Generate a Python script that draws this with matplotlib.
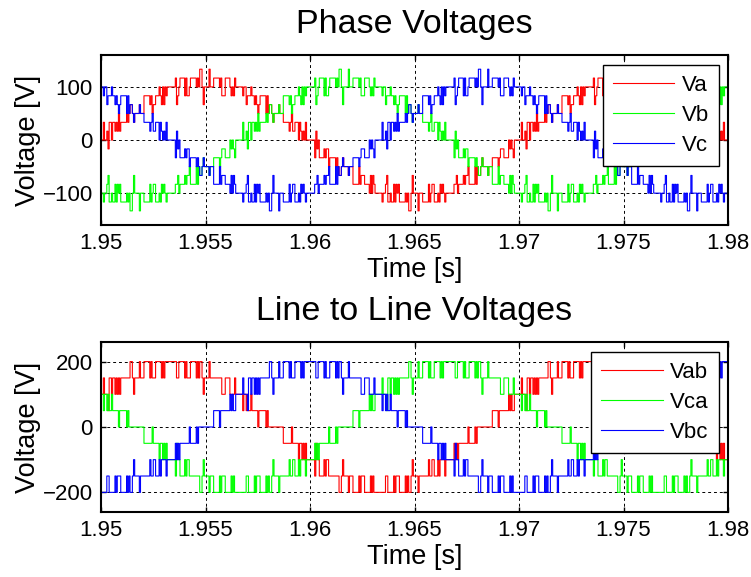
import numpy as np
import matplotlib
matplotlib.use("Agg")
import matplotlib.pyplot as plt

plt.rcParams['font.family'] = ['Liberation Sans', 'DejaVu Sans']

# average leg voltage [V] in each carrier period (0.278 ms)
leg_a = ([110, 120, 140, 150, 160, 180] +
         [180, 190, 190, 190, 190, 200, 200, 190, 190, 190, 190, 180,
          180, 190, 190, 190, 190, 200, 200, 190, 190, 190, 190, 180] +
         [180, 160, 150, 140, 120, 110] + [90, 80, 60, 50, 40, 20] +
         [20, 10, 10, 10, 10, 0, 0, 10, 10, 10, 10, 20,
          20, 10, 10, 10, 10, 0, 0, 10, 10, 10, 10, 20] +
         [20, 40, 50, 60, 80, 90] + [110, 120, 140, 150, 160, 180] +
         [180, 190, 190, 190, 190, 200, 200, 190, 190, 190, 190, 180,
          180, 190, 190, 190, 190, 200, 200, 190, 190, 190, 190, 180] +
         [180, 160, 150, 140, 120, 110])
leg_b = ([0, 10, 10, 10, 10, 20, 20, 10, 10, 10, 10, 0, 0, 10, 10, 10, 10, 20] +
         [20, 40, 50, 60, 80, 90] + [110, 120, 140, 150, 160, 180] +
         [180, 190, 190, 190, 190, 200, 200, 190, 190, 190, 190, 180,
          180, 190, 190, 190, 190, 200, 200, 190, 190, 190, 190, 180] +
         [180, 160, 150, 140, 120, 110] + [90, 80, 60, 50, 40, 20] +
         [20, 10, 10, 10, 10, 0, 0, 10, 10, 10, 10, 20,
          20, 10, 10, 10, 10, 0, 0, 10, 10, 10, 10, 20] +
         [20, 40, 50, 60, 80, 90] + [110, 120, 140, 150, 160, 180] +
         [180, 190, 190, 190, 190, 200])
leg_c = ([200, 190, 190, 190, 190, 180] +
         [180, 160, 150, 140, 120, 110] + [90, 80, 60, 50, 40, 20] +
         [20, 10, 10, 10, 10, 0, 0, 10, 10, 10, 10, 20,
          20, 10, 10, 10, 10, 0, 0, 10, 10, 10, 10, 20] +
         [20, 40, 50, 60, 80, 90] + [110, 120, 140, 150, 160, 180] +
         [180, 190, 190, 190, 190, 200, 200, 190, 190, 190, 190, 180,
          180, 190, 190, 190, 190, 200, 200, 190, 190, 190, 190, 180] +
         [180, 160, 150, 140, 120, 110] + [90, 80, 60, 50, 40, 20] +
         [20, 10, 10, 10, 10, 0, 0, 10, 10, 10, 10, 20, 20, 10, 10, 10, 10, 0])

x_ticks = [1.95, 1.955, 1.96, 1.965, 1.97, 1.975, 1.98]
x_labels = ["1.95", "1.955", "1.96", "1.965", "1.97", "1.975", "1.98"]
phase_ticks = [-100, 0, 100]
line_ticks = [-200, 0, 200]
phase_names = ["Va", "Vb", "Vc"]
line_names = ["Vab", "Vca", "Vbc"]
colors = ["#ff0000", "#00ff00", "#0000ff"]

step_v = 50
# which of the 5 samples in a carrier period sit one level up (even / odd periods)
pulse_even = {0: [0, 0, 0, 0, 0], 1: [0, 0, 1, 0, 0], 2: [0, 1, 1, 0, 0],
              3: [0, 1, 1, 1, 0], 4: [1, 1, 1, 1, 0]}
pulse_odd = {0: [0, 0, 0, 0, 0], 1: [0, 1, 0, 0, 0], 2: [0, 0, 1, 1, 0],
             3: [1, 1, 1, 0, 0], 4: [0, 1, 1, 1, 1]}


def expand(avg):
    out = []
    for i, v in enumerate(avg):
        base = (v // step_v) * step_v
        n = (v % step_v) // 10
        pattern = pulse_even if i % 2 == 0 else pulse_odd
        out.extend(base + step_v * p for p in pattern[n])
    out.append(out[-1])
    return np.array(out, dtype=float)


a = expand(leg_a)
b = expand(leg_b)
c = expand(leg_c)
t = np.linspace(1.95, 1.98, len(a))

phases = [(2 * a - b - c) / 3, (2 * b - a - c) / 3, (2 * c - a - b) / 3]
lines = [a - b, c - a, b - c]

fig = plt.figure(figsize=(7.51, 5.77), dpi=100)
ax1 = fig.add_axes([0.1345, 0.610, 0.8349, 0.2946])
ax2 = fig.add_axes([0.1345, 0.1127, 0.8349, 0.2946])


def style(ax, yticks, ylim, title):
    ax.set_xlim(1.95, 1.98)
    ax.set_ylim(*ylim)
    ax.set_xticks(x_ticks)
    ax.set_xticklabels(x_labels)
    ax.set_yticks(yticks)
    ax.grid(True, color="k", linestyle=(0, (3, 3)), linewidth=0.7)
    ax.set_axisbelow(True)
    ax.tick_params(direction="in", length=3.6, width=1, top=True, right=True,
                   labelsize=16, pad=6)
    for s in ax.spines.values():
        s.set_linewidth(1.5)
    ax.set_title(title, fontsize=24.5, pad=16)
    ax.set_xlabel("Time [s]", fontsize=19.5, labelpad=2)
    ax.set_ylabel("Voltage [V]", fontsize=19.5, labelpad=1)


for v, name, col in zip(phases, phase_names, colors):
    ax1.step(t, v, where="post", color=col, lw=0.8, label=name)
for v, name, col in zip(lines, line_names, colors):
    ax2.step(t, v, where="post", color=col, lw=0.8, label=name)

style(ax1, phase_ticks, (-160, 160), "Phase Voltages")
style(ax2, line_ticks, (-260, 260), "Line to Line Voltages")

for ax, corner in [(ax1, (719 / 751, 1 - 65 / 577)), (ax2, (719 / 751, 1 - 352 / 577))]:
    leg = ax.legend(loc="upper right", bbox_to_anchor=corner, bbox_transform=fig.transFigure,
                    borderaxespad=0, fontsize=16, handlelength=2.75, handletextpad=0.35,
                    labelspacing=0.4, borderpad=0.45, fancybox=False, framealpha=1)
    leg.get_frame().set_edgecolor("k")
    leg.get_frame().set_linewidth(1.0)

fig.savefig("out.png", dpi=100)
